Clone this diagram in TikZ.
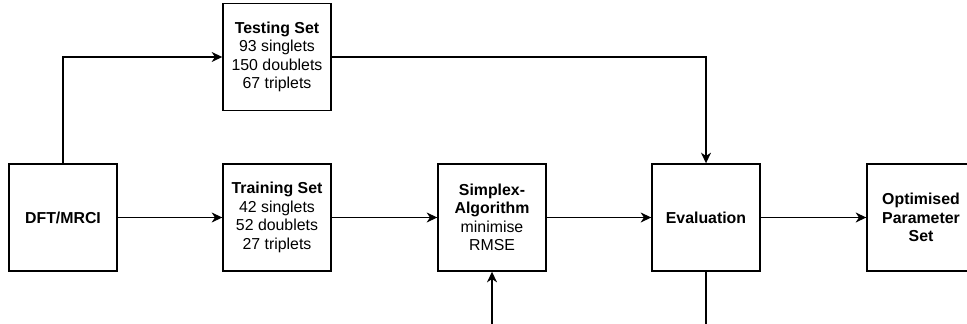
\documentclass[tikz,border=0pt]{standalone}
\usepackage{fontspec}
\setmainfont{Liberation Sans}
\usetikzlibrary{arrows.meta}
\begin{document}
\begin{tikzpicture}[x=0.75pt,y=-0.75pt,
  box/.style={draw, line width=1.05pt, minimum width=81pt, minimum height=80.25pt,
    inner sep=0pt, align=center, font=\fontsize{11.9}{13.9}\selectfont},
  flow/.style={line width=1.05pt, -{Stealth[length=8pt,width=7.5pt,inset=2.5pt]}},
  ]
\useasboundingbox (0,0) rectangle (967,324);

% process boxes
\node[box] (dft)   at (63,217.5)  {\textbf{DFT/MRCI}};
\node[box] (test)  at (277,57)    {\textbf{Testing Set}\\93 singlets\\150 doublets\\67 triplets};
\node[box] (train) at (277,217.5) {\textbf{Training Set}\\42 singlets\\52 doublets\\27 triplets};
\node[box] (simp)  at (492,217.5) {\textbf{Simplex-}\\\textbf{Algorithm}\\minimise\\RMSE};
\node[box] (eval)  at (706,217.5) {\textbf{Evaluation}};
\node[box] (opt)   at (921,217.5) {\textbf{Optimised}\\\textbf{Parameter}\\\textbf{Set}};

% connectors
\draw[flow] (dft.north) |- (test.west);
\draw[flow] (dft.east) -- (train.west);
\draw[flow] (train.east) -- (simp.west);
\draw[flow] (simp.east) -- (eval.west);
\draw[flow] (eval.east) -- (opt.west);
\draw[flow] (test.east) -| (eval.north);
% feedback loop, running below the visible area
\draw[flow] (eval.south) -- ++(0,90) -| (simp.south);
\end{tikzpicture}
\end{document}
